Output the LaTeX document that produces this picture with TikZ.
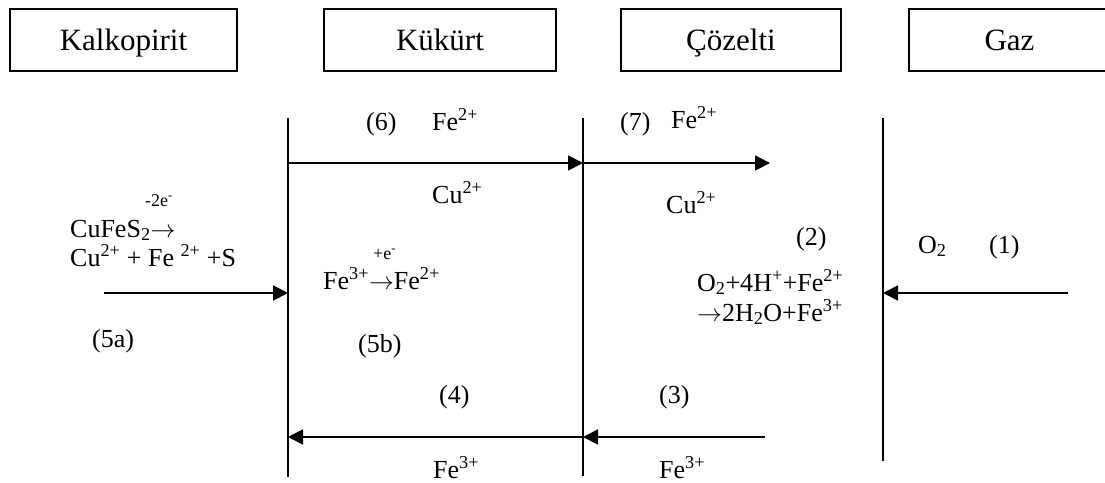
\documentclass[tikz,border=0pt]{standalone}
\usepackage{fontspec}
\setmainfont{Liberation Serif}
\usetikzlibrary{arrows.meta,positioning}
\newcommand{\ra}{$\rightarrow$}

\begin{document}
\begin{tikzpicture}[
  x=1pt,y=-1pt,
  box/.style={draw,line width=1.8pt,minimum width=#1,minimum height=62pt,
              text height=24pt,text depth=4pt,
              inner sep=0pt,font=\fontsize{31}{36}\selectfont},
  t/.style={inner sep=0pt,anchor=base west,font=\fontsize{26}{30}\selectfont},
  e/.style={inner sep=0pt,anchor=base west,font=\fontsize{18}{20}\selectfont},
  wall/.style={line width=1.8pt},
  a/.style={-{Triangle[length=15pt,width=15pt]},line width=1.8pt}
]
\useasboundingbox (0,0) rectangle (1105,482);
% phases
\node[box=227pt] (kalk) at (123.5,40) {Kalkopirit};
\node[box=232pt] (kuk) at (440,40) {Kükürt};
\node[box=220pt] (coz) at (731,40) {Çözelti};
\node[box=201pt] (gaz) at (1009.5,40) {Gaz};
% interfaces
\coordinate (w1t) at (288,118); \coordinate (w1b) at (288,477);
\coordinate (w2t) at (583,118); \coordinate (w2b) at (583,476);
\coordinate (w3t) at (883,118); \coordinate (w3b) at (883,461);
\draw[wall] (w1t) -- (w1b);
\draw[wall] (w2t) -- (w2b);
\draw[wall] (w3t) -- (w3b);
% arrow ends
\coordinate (f6) at (288,163); \coordinate (f7) at (583,163);
\coordinate (f7e) at (770,163);
\coordinate (s5) at (104,293); \coordinate (e5) at (288,293);
\coordinate (s1) at (1068,293); \coordinate (e1) at (883,293);
\coordinate (s3) at (765,437); \coordinate (e3) at (583,437);
\coordinate (e4) at (288,437);
\draw[a] (f6) -- (f7);
\draw[a] (f7) -- (f7e);
\draw[a] (s5) -- (e5);
\draw[a] (s1) -- (e1);
\draw[a] (s3) -- (e3);
\draw[a] (e3) -- (e4);
% labels
\node[t] (n6) at (366,130) {(6)};
\node[t] (fe6) at (432,130) {Fe\textsuperscript{2+}};
\node[t] (cu6) at (432,203) {Cu\textsuperscript{2+}};
\node[t] (n7) at (620,130) {(7)};
\node[t] (fe7) at (671,128) {Fe\textsuperscript{2+}};
\node[t] (cu7) at (666,213) {Cu\textsuperscript{2+}};
\node[e] (el5) at (145,206) {-2e\textsuperscript{-}};
\node[t] (r5a) at (70,237) {CuFeS\textsubscript{2}\ra};
\node[t] (r5b) at (70,266) {Cu\textsuperscript{2+} + Fe \textsuperscript{2+} +S};
\node[e] (el6) at (373,259) {+e\textsuperscript{-}};
\node[t] (r6) at (323,289) {Fe\textsuperscript{3+}\ra Fe\textsuperscript{2+}};
\node[t] (n2) at (796,245) {(2)};
\node[t] (o2) at (918,253) {O\textsubscript{2}};
\node[t] (n1) at (989,253) {(1)};
\node[t] (r2a) at (697,291) {O\textsubscript{2}+4H\textsuperscript{+}+Fe\textsuperscript{2+}};
\node[t] (r2b) at (697,321) {\ra 2H\textsubscript{2}O+Fe\textsuperscript{3+}};
\node[t] (n5a) at (92,347) {(5a)};
\node[t] (n5b) at (358,352) {(5b)};
\node[t] (n4) at (439,403) {(4)};
\node[t] (n3) at (659,403) {(3)};
\node[t] (fe4) at (433,478) {Fe\textsuperscript{3+}};
\node[t] (fe3) at (659,478) {Fe\textsuperscript{3+}};
\end{tikzpicture}
\end{document}
